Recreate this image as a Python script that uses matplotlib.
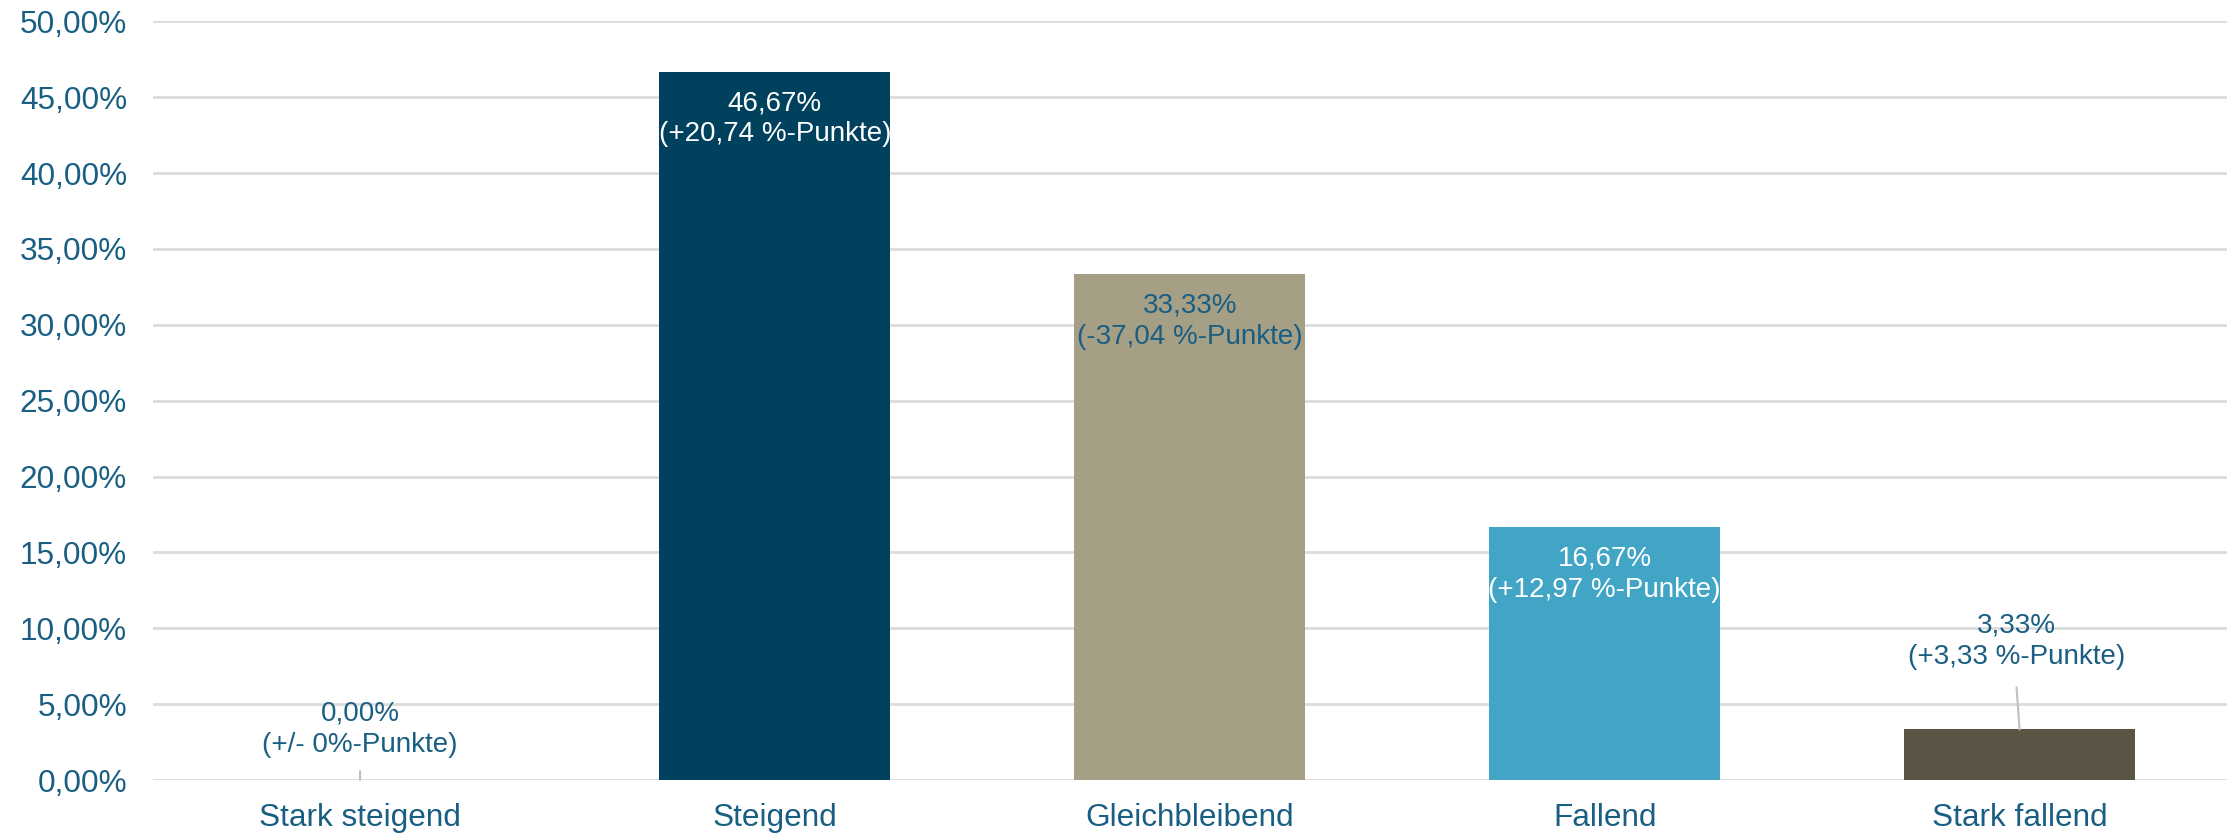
import matplotlib
matplotlib.use("Agg")
import matplotlib.pyplot as plt
from matplotlib.ticker import FuncFormatter

categories = ["Stark steigend", "Steigend", "Gleichbleibend", "Fallend", "Stark fallend"]
values = [0.00, 46.67, 33.33, 16.67, 3.33]
changes = ["(+/- 0%-Punkte)", "(+20,74 %-Punkte)", "(-37,04 %-Punkte)",
           "(+12,97 %-Punkte)", "(+3,33 %-Punkte)"]
bar_colors = ["#00415E", "#00415E", "#A59F86", "#42A5C6", "#5A5444"]
label_colors = ["#195E83", "white", "#195E83", "white", "#195E83"]
inside = [False, True, True, True, False]
yticks = [0, 5, 10, 15, 20, 25, 30, 35, 40, 45, 50]

plt.rcParams['font.family'] = ['Liberation Sans', 'DejaVu Sans']
text_color = "#195E83"

fig = plt.figure(figsize=(22.36, 8.36), dpi=100)
ax = fig.add_axes([152.6 / 2236, 56 / 836, (2227 - 152.6) / 2236, (780 - 21.4) / 836])

x = list(range(len(categories)))
ax.bar(x, values, width=0.557, color=bar_colors, zorder=3)

ax.set_xlim(-0.5, len(categories) - 0.5)
ax.set_ylim(0, 50)
ax.set_yticks(yticks)
ax.yaxis.set_major_formatter(FuncFormatter(lambda v, p: f"{v:.2f}".replace(".", ",") + "%"))
ax.grid(axis='y', color="#DCDCDC", linewidth=2, zorder=0)
ax.set_axisbelow(True)
for s in ax.spines.values():
    s.set_visible(False)
ax.tick_params(axis='both', length=0, labelsize=22.7, colors=text_color)
ax.tick_params(axis='y', pad=18.5)
ax.tick_params(axis='x', pad=16.5)
ax.set_xticks(x)
ax.set_xticklabels(categories)

outside_offsets = {0: (0, 51, 9), 4: (-3, 88, 42)}
for i, (v, ch) in enumerate(zip(values, changes)):
    vs = f"{v:.2f}".replace(".", ",") + "%"
    txt = vs + "\n" + ch
    if inside[i]:
        ax.annotate(txt, xy=(i, v), xytext=(0, -47), textcoords='offset pixels',
                    ha='center', va='center', fontsize=20, color=label_colors[i],
                    linespacing=1.25, zorder=5)
    else:
        dx, dy, ll = outside_offsets[i]
        ax.annotate(txt, xy=(i, v), xytext=(dx, dy), textcoords='offset pixels',
                    ha='center', va='center', fontsize=20, color=label_colors[i],
                    linespacing=1.25, zorder=5)
        ax.annotate("", xy=(i, v), xytext=(dx, ll), textcoords='offset pixels',
                    arrowprops=dict(arrowstyle='-', color="#BFBFBF", linewidth=1.5,
                                    shrinkA=0, shrinkB=0), zorder=4)

fig.savefig("out.png", dpi=100)
